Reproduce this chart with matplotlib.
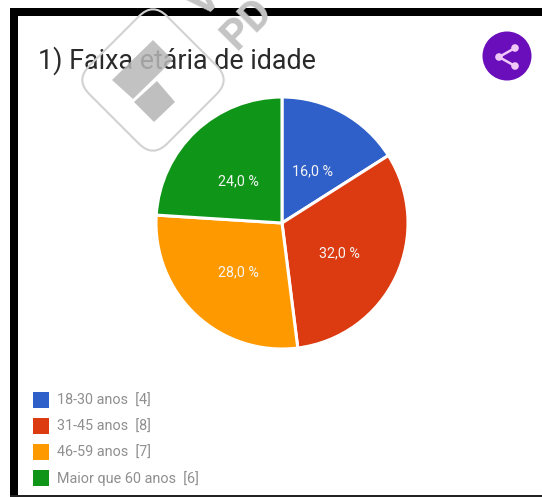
import matplotlib.pyplot as plt
from matplotlib.patches import Rectangle, Circle, FancyBboxPatch, Polygon
from matplotlib.transforms import Affine2D

plt.rcParams['font.family'] = ['Roboto', 'DejaVu Sans']

labels = ['18-30 anos', '31-45 anos', '46-59 anos', 'Maior que 60 anos']
counts = [4, 8, 7, 6]
percents = ['16,0 %', '32,0 %', '28,0 %', '24,0 %']
colors = ['#2f5fc8', '#dc3a10', '#ff9900', '#0f9618']
title = '1) Faixa etária de idade'

W, H = 542, 497
fig = plt.figure(figsize=(W / 100, H / 100), dpi=100, facecolor='white')

# frame, title live on a full-size pixel axes
bg = fig.add_axes([0, 0, 1, 1], zorder=0)
bg.set_xlim(0, W)
bg.set_ylim(H, 0)
bg.axis('off')
bg.add_patch(Rectangle((10, 8), W - 10, 8, color='black', lw=0))
bg.add_patch(Rectangle((10, 8), 8, H - 8, color='black', lw=0))
bg.add_patch(Rectangle((10, 495), W - 10, 2, color='#222222', lw=0))
bg.text(38, 60.5, title, fontsize=19.4, color='#2a2a2a', va='center', ha='left')

# pie chart, clockwise from twelve o'clock
cx, cy, r = 282, 223, 126
pie_ax = fig.add_axes([(cx - r) / W, 1 - (cy + r) / H, 2 * r / W, 2 * r / H], zorder=1)
wedges, _, autotexts = pie_ax.pie(
    counts, colors=colors, startangle=90, counterclock=False, radius=1,
    autopct=lambda p: '', pctdistance=0.5,
    wedgeprops=dict(edgecolor='white', linewidth=2.2))
for t, s in zip(autotexts, percents):
    t.set_text(s)
    t.set_color('#f4f4f4')
    t.set_fontsize(10.3)
    t.set_y(t.get_position()[1] - 0.03)
pie_ax.set_xlim(-1, 1)
pie_ax.set_ylim(-1, 1)
pie_ax.set_aspect('equal')

# legend
top = fig.add_axes([0, 0, 1, 1], zorder=2)
top.set_xlim(0, W)
top.set_ylim(H, 0)
top.axis('off')
top.patch.set_alpha(0)
for i, (lab, n, col) in enumerate(zip(labels, counts, colors)):
    y = 399.5 + i * 26
    top.add_patch(Rectangle((33, y - 8), 16, 16, color=col, lw=0))
    top.text(57, y + 1.5, f'{lab}  [{n}]', fontsize=10.4, color='#8f8f8f', va='center', ha='left')

# share button
top.add_patch(Circle((507, 56), 24.5, color='#6a0dbb', lw=0))
nodes = [(515, 48), (499, 57), (515, 66)]
top.plot([p[0] for p in nodes], [p[1] for p in nodes], color='#f0c8f8', lw=1.8)
for n in nodes:
    top.add_patch(Circle(n, 3.8, color='#f0c8f8', lw=0))

# stamp over the page
rot = Affine2D().rotate_deg_around(153, 80, 45) + top.transData
top.add_patch(FancyBboxPatch((153 - 55, 80 - 55), 110, 110, boxstyle='round,pad=0,rounding_size=20',
                             fc='none', ec='#d2d2d2', lw=1.5, transform=rot))
top.add_patch(Polygon([(153, 40), (112, 80), (133, 99), (173, 60)], fc='#b8b8b8', alpha=0.85, lw=0))
top.add_patch(Polygon([(157, 81), (175, 102), (154, 122), (134, 102)], fc='#b8b8b8', alpha=0.9, lw=0))
top.text(247, 24, 'PD', fontsize=30, fontweight='bold', color='#c4c4c4', rotation=45,
         ha='center', va='center', rotation_mode='anchor', clip_on=True)
top.text(205, 1, 'V', fontsize=30, fontweight='bold', color='#c4c4c4', rotation=45,
         ha='center', va='center', rotation_mode='anchor', clip_on=True)

fig.savefig('out.png', dpi=100, facecolor='white')
